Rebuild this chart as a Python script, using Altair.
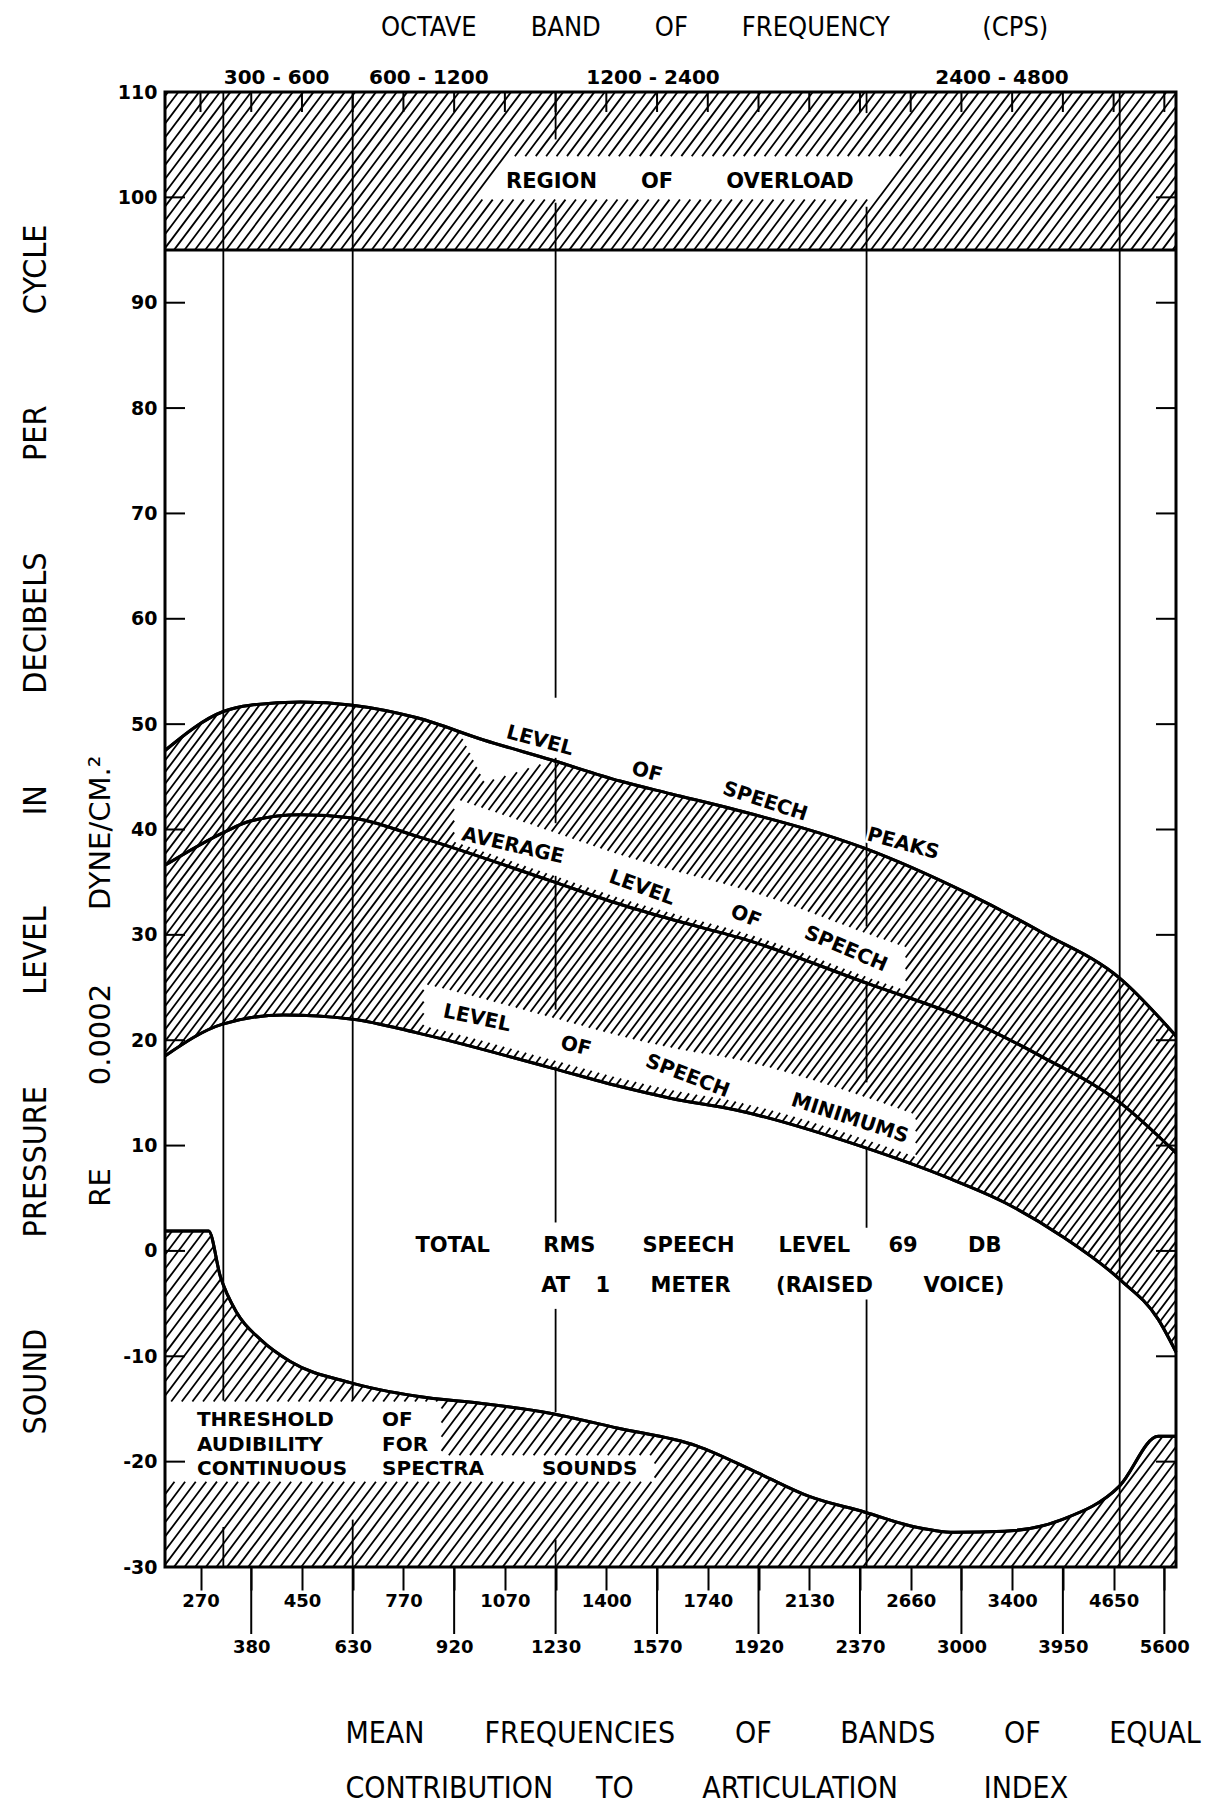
import json
import numpy as np
import pandas as pd
import altair as alt

NB = "\u00a0"

# ---------------------------------------------------------------- data ----
# Mean frequencies (c/s) of the 20 bands of equal contribution to the
# articulation index; the x axis is laid out in band-index units (0..19).
band_freqs = ["270", "380", "450", "630", "770", "920", "1070", "1230", "1400", "1570",
              "1740", "1920", "2130", "2370", "2660", "3000", "3400", "3950", "4650", "5600"]

X_MIN, X_MAX = -0.70, 19.23
Y_MIN, Y_MAX = -30, 110
y_ticks = list(range(-30, 111, 10))

# octave band boundaries 300, 600, 1200, 2400, 4800 c/s (band-index units)
octave_names = ["300 - 600", "600 - 1200", "1200 - 2400", "2400 - 4800"]
octave_label_x = [1.5, 4.5, 8.92, 15.8]

# drawn pieces of the octave boundary lines: position, top dB, bottom dB
edge_x = [0.45, 0.45, 3.0, 3.0, 7.0, 7.0, 7.0, 7.0, 7.0, 7.0, 7.0,
          13.13, 13.13, 13.13, 13.13, 13.13, 18.12]
edge_top = [110, -26.2, 110, -25.5, 110, 99.5, 46.8, 35.6, 17.5, -5.5, -27.4,
            110, 99.1, 25.3, 9.8, -4.6, 110]
edge_bottom = [-14.2, -30, -14.2, -30, 105.5, 52.5, 40.6, 22.9, 2.7, -15.3, -30,
               108.0, 30.8, 16.0, 2.2, -30, -30]

# speech spectrum, dB re 0.0002 dyne/cm^2 per cycle
peaks_x = [-0.70, 0.45, 0.98, 1.97, 3.0, 4.27, 5.58, 6.92, 8.27, 9.26, 10.53, 13.1, 15.09, 16.6, 18.12, 19.23]
peaks_db = [47.5, 51.2, 51.8, 52.1, 51.8, 50.6, 48.5, 46.6, 44.6, 43.4, 41.9, 38.2, 34.0, 30.2, 25.9, 20.4]

avg_x = [-0.70, 0.45, 0.98, 1.97, 3.0, 4.27, 6.92, 8.27, 9.26, 10.78, 13.2, 15.09, 16.6, 18.12, 19.23]
avg_db = [36.6, 39.7, 40.8, 41.4, 41.1, 39.35, 35.1, 32.9, 31.5, 29.5, 25.3, 22.0, 18.4, 14.1, 9.3]

min_x = [-0.70, 0.42, 1.64, 3.0, 4.27, 6.89, 8.27, 9.26, 10.53, 13.1, 14.7, 15.85, 16.98, 18.12, 18.88, 19.23]
min_db = [18.5, 21.5, 22.4, 22.0, 20.7, 17.4, 15.6, 14.5, 13.4, 9.8, 7.0, 4.6, 1.4, -2.7, -6.5, -9.6]

# threshold of audibility for continuous spectra sounds
thr_x = [-0.70, 0.16, 0.39, 0.72, 1.18, 1.77, 2.95, 4.27, 5.58, 6.89, 8.21, 9.78, 11.0,
         12.0, 13.1, 14.0, 14.86, 15.85, 16.98, 18.12, 18.88, 19.23]
thr_db = [1.9, 1.9, -2.4, -5.9, -8.4, -10.5, -12.5, -13.8, -14.5, -15.4, -16.8, -18.5, -21.1,
          -23.3, -24.8, -26.1, -26.7, -26.6, -25.5, -22.3, -17.6, -17.6]

overload_db = 95

# label words: text, band index, dB above the curve, angle
peaks_words = [("LEVEL", 6.69, 1.5, 15), ("OF", 8.8, 1.5, 15), ("SPEECH", 11.13, 1.5, 18), ("PEAKS", 13.85, 1.9, 15)]
avg_words = [("AVERAGE", 6.16, 2.1, 13), ("LEVEL", 8.7, 2.2, 20), ("OF", 10.75, 2.2, 22), ("SPEECH", 12.72, 2.5, 23)]
min_words = [("LEVEL", 5.45, 2.8, 12), ("OF", 7.4, 2.7, 14), ("SPEECH", 9.6, 2.4, 21), ("MINIMUMS", 12.8, 2.3, 18)]

# free-standing words: text, band index, dB
overload_words = [("REGION", 6.92, 101.5), ("OF", 9.0, 101.5), ("OVERLOAD", 11.62, 101.5)]
total_words = [("TOTAL", 4.97, 0.5), ("RMS", 7.27, 0.5), ("SPEECH", 9.62, 0.5), ("LEVEL", 12.1, 0.5),
               ("69", 13.85, 0.5), ("DB", 15.46, 0.5),
               ("AT", 7.0, -3.35), ("1", 7.93, -3.35), ("METER", 9.66, -3.35),
               ("(RAISED", 12.3, -3.35), ("VOICE)", 15.05, -3.35)]
threshold_words = [("THRESHOLD", -0.07, -16.0), ("OF", 3.58, -16.0),
                   ("AUDIBILITY", -0.07, -18.4), ("FOR", 3.58, -18.4),
                   ("CONTINUOUS", -0.07, -20.7), ("SPECTRA", 3.58, -20.7), ("SOUNDS", 6.73, -20.7)]

# cleared areas inside the hatching (band index / dB)
overload_box = (5.45, 13.2, 99.8, 103.9)
threshold_box_upper = (X_MIN, 4.75, -21.9, -14.3)
threshold_box_lower = (4.75, 8.95, -21.9, -19.4)
avg_strip = (5.0, 13.9, 0.6, 4.7)
min_strip = (4.4, 14.1, 0.8, 4.8)
peaks_notch = (5.1, 5.6, 6.95, 4.0)

# ------------------------------------------------------------- layout ----
W, H = 1011, 1475
SX = W / (X_MAX - X_MIN)
SY = H / (Y_MAX - Y_MIN)
K = 1.33  # screen slope of the "/" hatching

FONT_NARROW = "'Liberation Sans Narrow', 'DejaVu Sans Condensed', 'Roboto', sans-serif"
FONT_LETTER = "'DejaVu Sans', sans-serif"

grid = np.linspace(X_MIN, X_MAX, 8001)


def monotone(xs, ys, q):
    """Monotone cubic (same construction as Vega's 'monotone' line)."""
    xs = np.asarray(xs, float)
    ys = np.asarray(ys, float)
    n = len(xs)
    h = np.diff(xs)
    s = np.diff(ys) / h
    t = np.zeros(n)
    for k in range(1, n - 1):
        h0, h1, s0, s1 = h[k - 1], h[k], s[k - 1], s[k]
        p = (s0 * h1 + s1 * h0) / (h0 + h1)
        t[k] = (np.sign(s0) + np.sign(s1)) * min(abs(s0), abs(s1), 0.5 * abs(p))
    t[0] = (3 * s[0] - t[1]) / 2
    t[-1] = (3 * s[-1] - t[-2]) / 2
    q = np.asarray(q, float)
    idx = np.clip(np.searchsorted(xs, q, side="right") - 1, 0, n - 2)
    dx = h[idx]
    u = (q - xs[idx]) / dx
    h00 = 2 * u ** 3 - 3 * u ** 2 + 1
    h10 = u ** 3 - 2 * u ** 2 + u
    h01 = -2 * u ** 3 + 3 * u ** 2
    h11 = u ** 3 - u ** 2
    return h00 * ys[idx] + h10 * dx * t[idx] + h01 * ys[idx + 1] + h11 * dx * t[idx + 1]


peaks_g = monotone(peaks_x, peaks_db, grid)
avg_g = monotone(avg_x, avg_db, grid)
min_g = monotone(min_x, min_db, grid)
thr_g = monotone(thr_x, thr_db, grid)


def hatch(lower, upper, spacing, phase, zones=()):
    px = (grid - X_MIN) * SX
    segs = []
    for u in np.arange(phase, W + H / K + spacing, spacing):
        y = Y_MAX - (u - px) * K / SY
        inside = (y >= lower) & (y <= upper)
        if not inside.any():
            continue
        for zone in zones:
            inside &= ~zone(grid, y, u)
        e = np.diff(np.concatenate([[0], inside.astype(np.int8), [0]]))
        for a, b in zip(np.where(e == 1)[0], np.where(e == -1)[0] - 1):
            if b - a >= 2:
                segs.append((round(grid[a], 4), round(y[a], 3), round(grid[b], 4), round(y[b], 3)))
    return pd.DataFrame(segs, columns=["x", "y", "x2", "y2"])


def box(b):
    x0, x1, y0, y1 = b
    return lambda i, y, u: (i >= x0) & (i <= x1) & (y >= y0) & (y <= y1)


def slanted_box(b):
    x0, x1, y0, y1 = b
    u0 = (x0 - X_MIN) * SX + (Y_MAX - y0) * SY / K
    u1 = (x1 - X_MIN) * SX + (Y_MAX - y0) * SY / K
    return lambda i, y, u: (y >= y0) & (y <= y1) & (u >= u0) & (u <= u1)


def strip(curve_g, b):
    x0, x1, d0, d1 = b
    return lambda i, y, u: (i >= x0) & (i <= x1) & (y - curve_g >= d0) & (y - curve_g <= d1)


def notch(b):
    x0, xm, x1, depth = b
    d = np.interp(grid, [x0, xm, x1], [0.0, depth, 0.0])
    return lambda i, y, u: (i >= x0) & (i <= x1) & (y >= peaks_g - d)


hatch_df = pd.concat([
    hatch(np.full_like(grid, overload_db), np.full_like(grid, Y_MAX), 10.4, 3.0,
          [slanted_box(overload_box)]),
    hatch(min_g, peaks_g, 8.8, 1.0,
          [strip(avg_g, avg_strip), strip(min_g, min_strip), notch(peaks_notch)]),
    hatch(np.full_like(grid, Y_MIN), thr_g, 10.6, 5.0,
          [box(threshold_box_upper), box(threshold_box_lower)]),
], ignore_index=True)

curves_df = pd.concat([
    pd.DataFrame({"x": peaks_x, "y": peaks_db, "curve": "peaks"}),
    pd.DataFrame({"x": avg_x, "y": avg_db, "curve": "average"}),
    pd.DataFrame({"x": min_x, "y": min_db, "curve": "minimums"}),
    pd.DataFrame({"x": thr_x, "y": thr_db, "curve": "threshold"}),
], ignore_index=True)


def along(words, xs, ys):
    return pd.DataFrame({
        "text": [w[0] for w in words],
        "x": [w[1] for w in words],
        "y": [float(monotone(xs, ys, [w[1]])[0]) + w[2] for w in words],
        "angle": [w[3] for w in words],
    })


curve_words_df = pd.concat([along(peaks_words, peaks_x, peaks_db),
                            along(avg_words, avg_x, avg_db),
                            along(min_words, min_x, min_db)], ignore_index=True)
plain_words_df = pd.DataFrame(overload_words + total_words, columns=["text", "x", "y"])
thr_words_df = pd.DataFrame(threshold_words, columns=["text", "x", "y"])
octave_df = pd.DataFrame({"text": octave_names, "x": octave_label_x, "y": Y_MAX + 1.35})
re_df = pd.DataFrame({"text": [f"RE{NB*9}0.0002{NB*8}DYNE/CM.\u00b2"], "x": [X_MIN - 1.255], "y": [25.6]})
edges_df = pd.DataFrame({"x": edge_x, "y": edge_top, "y2": edge_bottom})
band_df = pd.DataFrame({"x": list(range(len(band_freqs)))})
band_odd_df = band_df[band_df["x"] % 2 == 1]
ytick_df = pd.DataFrame({"y": y_ticks})
overload_df = pd.DataFrame({"y": [overload_db]})

# -------------------------------------------------------------- chart ----
xs_ = alt.Scale(domain=[X_MIN, X_MAX], nice=False, zero=False)
ys_ = alt.Scale(domain=[Y_MIN, Y_MAX], nice=False, zero=False)


def X(axis=alt.Undefined):
    return alt.X("x:Q", scale=xs_, axis=axis)


def Y(axis=alt.Undefined):
    return alt.Y("y:Q", scale=ys_, axis=axis)


labels_js = json.dumps(band_freqs)
x_axis = alt.Axis(
    values=list(range(len(band_freqs))),
    labelExpr=f"round(datum.value) % 2 == 0 ? {labels_js}[round(datum.value)] : ['', {labels_js}[round(datum.value)]]",
    tickSize=23, tickWidth=2, tickColor="black", domain=False, grid=False,
    labelFont=FONT_LETTER, labelFontSize=18, labelFontWeight="bold", labelColor="black",
    labelPadding=2, labelBaseline="top", labelLineHeight=46,
    labelOverlap=False, labelFlush=False, labelBound=False,
    title=[NB.join(["MEAN", NB * 5, "FREQUENCIES", NB * 5, "OF", NB * 6, "BANDS", NB * 6, "OF", NB * 6, "EQUAL"]),
           NB.join(["CONTRIBUTION", NB * 3, "TO", NB * 6, "ARTICULATION", NB * 8, "INDEX"])],
    titleFont=FONT_NARROW, titleFontSize=30, titleFontWeight="normal", titleColor="black",
    titleAnchor="start", titleAlign="left", titleBaseline="top",
    titleX=180, titleY=151, titleLineHeight=55,
)
y_axis = alt.Axis(
    values=y_ticks, ticks=False, domain=False, grid=False,
    labelExpr="toString(datum.value)",
    labelFont=FONT_LETTER, labelFontSize=19, labelFontWeight="bold", labelColor="black",
    labelPadding=8,
    title=(NB * 10).join(["SOUND", "PRESSURE", "LEVEL", "IN", "DECIBELS", "PER", "CYCLE"]),
    titleFont=FONT_NARROW, titleFontSize=32, titleFontWeight="normal", titleColor="black",
    titleAngle=270, titleAlign="center", titleBaseline="middle",
    titleX=-130, titleY=737,
)

# the curves carry the axes, so they come first in the layer list
curves_layer = alt.Chart(curves_df).mark_line(color="black", strokeWidth=3, interpolate="monotone").encode(
    x=X(x_axis), y=Y(y_axis), detail="curve:N")

hatch_layer = alt.Chart(hatch_df).mark_rule(color="black", strokeWidth=1.8).encode(
    x=X(), y=Y(), x2="x2:Q", y2="y2:Q")
edge_layer = alt.Chart(edges_df).mark_rule(color="black", strokeWidth=1.8).encode(
    x=X(), y=Y(), y2="y2:Q")
overload_line = alt.Chart(overload_df).mark_rule(color="black", strokeWidth=3).encode(
    y=Y(), x=alt.value(0), x2=alt.value(W))
left_ticks = alt.Chart(ytick_df).mark_rule(color="black", strokeWidth=2).encode(
    y=Y(), x=alt.value(0), x2=alt.value(20))
right_ticks = alt.Chart(ytick_df).mark_rule(color="black", strokeWidth=2).encode(
    y=Y(), x=alt.value(W - 20), x2=alt.value(W))
top_ticks = alt.Chart(band_df).mark_rule(color="black", strokeWidth=2).encode(
    x=X(), y=alt.value(0), y2=alt.value(20))
long_ticks = alt.Chart(band_odd_df).mark_rule(color="black", strokeWidth=2).encode(
    x=X(), y=alt.value(H), y2=alt.value(H + 67))


def word_layer(df, size, align="center", rotated=False, halo=False, font=FONT_LETTER, weight="bold"):
    enc = dict(x=X(), y=Y(), text="text:N")
    if rotated:
        enc["angle"] = alt.Angle("angle:Q", scale=None)
    style = dict(color="white", stroke="white", strokeWidth=5) if halo else dict(color="black")
    return alt.Chart(df).mark_text(font=font, fontSize=size, fontWeight=weight, align=align,
                                   baseline="middle", **style).encode(**enc)


word_sets = [(curve_words_df, 20, "center", True), (plain_words_df, 21, "center", False),
             (thr_words_df, 20, "left", False)]
halos = [word_layer(d, s, a, r, halo=True) for d, s, a, r in word_sets]
words = [word_layer(d, s, a, r) for d, s, a, r in word_sets]

octave_text = alt.Chart(octave_df).mark_text(font=FONT_LETTER, fontSize=20, fontWeight="bold",
                                             baseline="middle", color="black").encode(
    x=X(), y=Y(), text="text:N")
re_text = alt.Chart(re_df).mark_text(font=FONT_LETTER, fontSize=29, angle=270,
                                     baseline="middle", color="black").encode(
    x=X(), y=Y(), text="text:N")

# the curves are drawn again above the halos so the words never cut them
layers = ([curves_layer, hatch_layer, edge_layer, left_ticks, right_ticks, top_ticks, long_ticks]
          + halos + [curves_layer, overload_line] + words + [octave_text, re_text])

chart = alt.layer(*layers).properties(
    width=W, height=H,
    padding={"left": 165, "top": 92, "right": 1221 - 165 - W, "bottom": 1804 - 92 - H},
    autosize=alt.AutoSizeParams(type="none"),
    background="white",
    title=alt.TitleParams(
        (NB * 7).join(["OCTAVE", "BAND", "OF", "FREQUENCY", NB * 5 + "(CPS)"]),
        anchor="start", frame="group", dx=216, offset=13,
        font=FONT_NARROW, fontSize=27, fontWeight="normal", color="black", baseline="middle"),
).configure_view(stroke="black", strokeWidth=3)

chart.save("out.html", embed_options={"renderer": "svg", "actions": False})
